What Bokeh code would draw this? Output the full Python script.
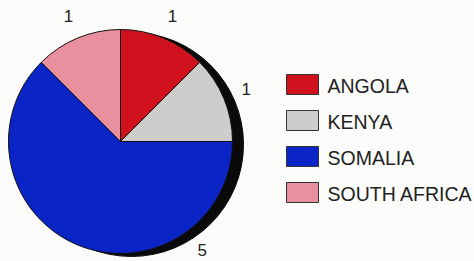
import math
from bokeh.plotting import figure
from bokeh.models import ColumnDataSource, Range1d
from bokeh.core.properties import value
from bokeh.embed import file_html
from bokeh.resources import INLINE

# ---- data ----
countries = ["ANGOLA", "KENYA", "SOMALIA", "SOUTH AFRICA"]
counts = [1, 1, 5, 1]
colors = ["#d0121e", "#cdcdcb", "#0b24c6", "#e8909e"]

# ---- layout (pixel-like data units) ----
W, H = 474, 261
cx, cy, R = 120, 120, 112
shadow_dx, shadow_dy = 11, -3
label_r = 136

p = figure(width=W, height=H, output_backend="svg", toolbar_location=None,
           x_range=Range1d(0, W), y_range=Range1d(0, H),
           min_border=0, background_fill_color="#fbfbf9",
           border_fill_color="#fbfbf9")
p.axis.visible = False
p.grid.visible = False
p.outline_line_color = None

total = sum(counts)
starts, ends, mids = [], [], []
cum = 0
for v in counts:
    a_end = math.pi / 2 - 2 * math.pi * cum / total
    cum += v
    a_start = math.pi / 2 - 2 * math.pi * cum / total
    starts.append(a_start)
    ends.append(a_end)
    mids.append((a_start + a_end) / 2)

# shadow
p.circle(x=[cx + shadow_dx], y=[cy + shadow_dy], radius=R,
         fill_color="#0a0a0a", line_color="#0a0a0a")

src = ColumnDataSource(dict(start=starts, end=ends, color=colors))
p.wedge(x=cx, y=cy, radius=R, start_angle="start", end_angle="end",
        direction="anticlock", fill_color="color", line_color="#111111",
        line_width=1, source=src)

# value labels (largest slice label placed toward lower right)
label_angles = []
for v, m in zip(counts, mids):
    if v > total / 2:
        label_angles.append(math.radians(-53))
    else:
        label_angles.append(m)
lx = [cx + label_r * math.cos(a) for a in label_angles]
ly = [cy + label_r * math.sin(a) for a in label_angles]
p.text(x=lx, y=ly, text=[str(v) for v in counts], text_align="center",
       text_baseline="middle", text_font=value("Liberation Sans"),
       text_font_size="17px", text_color="#222222")

# legend
box_x, box_w, box_h = 302, 32, 20
row0, row_gap = 177, 36
ys = [row0 - i * row_gap for i in range(len(countries))]
p.rect(x=[box_x] * len(countries), y=ys, width=box_w, height=box_h,
       fill_color=colors, line_color="#333333", line_width=1)
p.text(x=[327] * len(countries), y=[y - 1 for y in ys], text=countries,
       text_align="left", text_baseline="middle",
       text_font=value("Liberation Sans"), text_font_size="19.5px",
       text_color="#222222")

open("out.html", "w").write(file_html(p, INLINE))
